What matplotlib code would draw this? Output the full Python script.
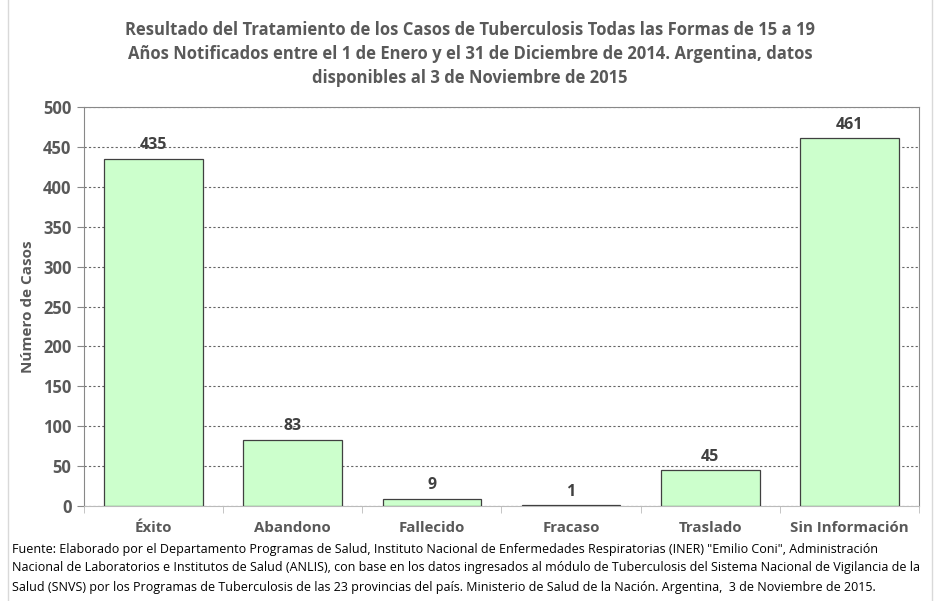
import matplotlib.pyplot as plt
from matplotlib.patches import Rectangle

categorias = ['Éxito', 'Abandono', 'Fallecido', 'Fracaso', 'Traslado', 'Sin Información']
casos = [435, 83, 9, 1, 45, 461]
yticks = [0, 50, 100, 150, 200, 250, 300, 350, 400, 450, 500]

titulo = ('Resultado del Tratamiento de los Casos de Tuberculosis Todas las Formas de 15 a 19\n'
          'Años Notificados entre el 1 de Enero y el 31 de Diciembre de 2014. Argentina, datos\n'
          'disponibles al 3 de Noviembre de 2015')
fuente = ('Fuente: Elaborado por el Departamento Programas de Salud, Instituto Nacional de Enfermedades Respiratorias (INER) "Emilio Coni", Administración\n'
          'Nacional de Laboratorios e Institutos de Salud (ANLIS), con base en los datos ingresados al módulo de Tuberculosis del Sistema Nacional de Vigilancia de la\n'
          'Salud (SNVS) por los Programas de Tuberculosis de las 23 provincias del país. Ministerio de Salud de la Nación. Argentina,  3 de Noviembre de 2015.')

plt.rcParams['font.family'] = ['Open Sans', 'DejaVu Sans']
gris = '#595959'

fig = plt.figure(figsize=(9.4, 6.01), dpi=100)
ax = fig.add_axes([84 / 940, 1 - 506 / 601, (919 - 84) / 940, (506 - 107) / 601])

x = range(len(categorias))
ax.bar(x, casos, width=0.71, color='#CCFFCC', edgecolor='#404040', linewidth=0.9, zorder=3)
for xi, v in zip(x, casos):
    ax.text(xi, v + 7, str(v), ha='center', va='bottom', fontsize=11.5,
            fontweight='bold', color='#404040', zorder=4)

ax.set_xlim(-0.5, len(categorias) - 0.5)
ax.set_ylim(0, 500)
ax.set_yticks(yticks)
ax.set_yticklabels([str(t) for t in yticks], fontsize=12, fontweight='bold', color=gris)
ax.set_xticks(list(x))
ax.set_xticklabels(categorias, fontsize=10.8, fontweight='bold', color=gris)
ax.tick_params(axis='x', length=0, pad=11)
ax.tick_params(axis='y', length=5, color='#888888', pad=4)
# marcas entre categorias
ax.set_xticks([i - 0.5 for i in range(len(categorias) + 1)], minor=True)
ax.tick_params(axis='x', which='minor', length=5, color='#bbbbbb')

ax.grid(axis='y', linestyle=(0, (2, 2)), color='#666666', linewidth=0.8, zorder=0)
for s in ['left', 'top', 'right']:
    ax.spines[s].set_color('#888888')
ax.spines['bottom'].set_color('#bbbbbb')

ax.set_ylabel('Número de Casos', fontsize=11, fontweight='bold', color=gris, labelpad=6)

fig.text(0.5, 1 - 54 / 601, titulo, ha='center', va='center', fontsize=12,
         fontweight='bold', color=gris, linespacing=1.45)
fig.text(12 / 940, 1 - 568 / 601, fuente, ha='left', va='center', fontsize=9,
         color='black', linespacing=1.6)

fig.patches.append(Rectangle((8 / 940, -0.01), (932 - 8) / 940, 1.02, transform=fig.transFigure,
                             fill=False, edgecolor='#d9d9d9', linewidth=1))

plt.savefig('out.png', dpi=100)
